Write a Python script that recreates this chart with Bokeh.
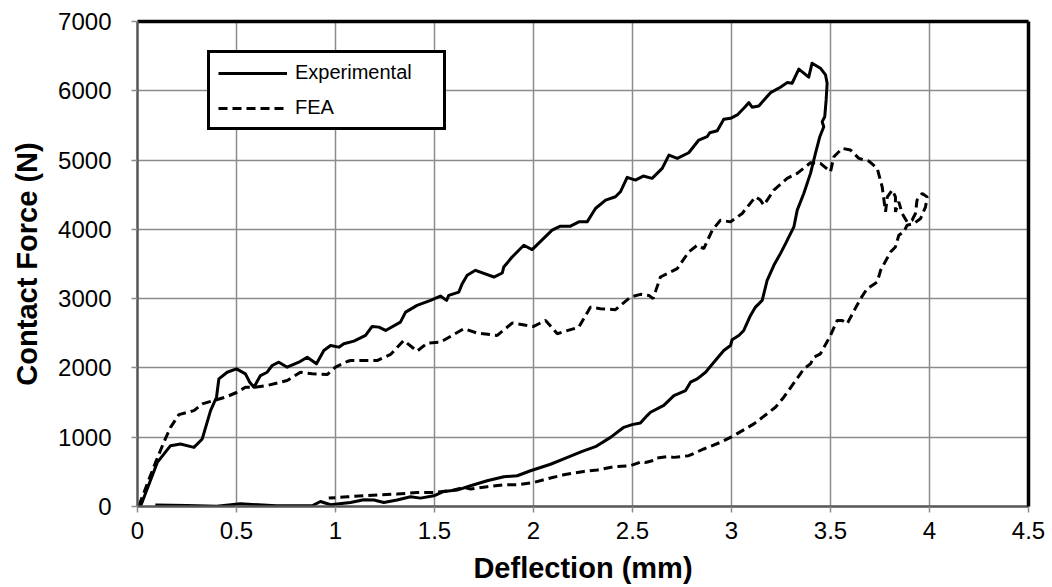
from bokeh.plotting import figure
from bokeh.models import FixedTicker, NumeralTickFormatter, Range1d, LinearAxis
from bokeh.embed import file_html
from bokeh.resources import INLINE

# ---------------- data ----------------
exp_x = [0.015, 0.10, 0.167, 0.217, 0.285, 0.327, 0.369, 0.399, 0.411, 0.453, 0.50, 0.545, 0.567, 0.588,
         0.621, 0.655, 0.68, 0.714, 0.756, 0.815, 0.857, 0.904, 0.941, 0.975, 1.017, 1.042, 1.093, 1.152,
         1.185, 1.219, 1.253, 1.328, 1.354, 1.412, 1.48, 1.53, 1.561, 1.572, 1.623, 1.64, 1.665, 1.707,
         1.80, 1.842, 1.85, 1.892, 1.951, 1.993, 2.094, 2.136, 2.187, 2.229, 2.271, 2.313, 2.364, 2.414,
         2.439, 2.473, 2.515, 2.554, 2.599, 2.65, 2.684, 2.726, 2.784, 2.835, 2.877, 2.89, 2.928, 2.961,
         2.995, 3.029, 3.062, 3.088, 3.104, 3.138, 3.197, 3.247, 3.281, 3.306, 3.34, 3.39, 3.407, 3.449,
         3.475, 3.483, 3.478, 3.471, 3.458, 3.466, 3.446, 3.424, 3.399, 3.365, 3.332, 3.315, 3.273, 3.247,
         3.214, 3.18, 3.155, 3.121, 3.096, 3.062, 3.037, 3.003, 2.995, 2.961, 2.911, 2.869, 2.827, 2.793,
         2.768, 2.709, 2.658, 2.591, 2.574, 2.54, 2.498, 2.456, 2.389, 2.313, 2.246, 2.153, 2.086, 1.985,
         1.918, 1.85, 1.766, 1.682, 1.614, 1.547, 1.497, 1.429, 1.379, 1.311, 1.244, 1.194, 1.143, 1.076,
         1.008, 0.975, 0.924, 0.882, 0.70, 0.52, 0.40, 0.25, 0.09]
exp_y = [0, 636, 878, 902, 853, 975, 1384, 1577, 1843, 1938, 1987, 1915, 1794, 1721,
         1890, 1938, 2035, 2083, 2011, 2083, 2155, 2059, 2252, 2324, 2300, 2348, 2387, 2469,
         2599, 2589, 2541, 2661, 2806, 2903, 2975, 3037, 2975, 3047, 3095, 3216, 3337, 3409,
         3312, 3370, 3457, 3601, 3771, 3708, 3988, 4046, 4046, 4108, 4108, 4301, 4422, 4470,
         4542, 4750, 4711, 4769, 4736, 4880, 5072, 5024, 5106, 5289, 5337, 5395, 5424, 5588,
         5603, 5651, 5748, 5829, 5762, 5781, 5973, 6051, 6118, 6109, 6312, 6196, 6398, 6326,
         6229, 6109, 5868, 5626, 5554, 5482, 5337, 5097, 4808, 4518, 4277, 4035, 3795, 3650,
         3481, 3264, 2975, 2878, 2758, 2541, 2469, 2407, 2324, 2252, 2083, 1938, 1843, 1794,
         1673, 1601, 1460, 1360, 1312, 1205, 1182, 1143, 998, 863, 796, 686, 610, 516,
         444, 430, 372, 299, 237, 217, 155, 121, 140, 93, 58, 93, 97, 58,
         35, 25, 72, 10, 10, 40, 5, 15, 20]

fea_x = [0.007, 0.049, 0.091, 0.133, 0.167, 0.209, 0.285, 0.327, 0.385, 0.444, 0.503, 0.545, 0.588,
         0.655, 0.756, 0.823, 0.882, 0.958, 1.0, 1.059, 1.076, 1.21, 1.278, 1.345, 1.412, 1.463, 1.53,
         1.648, 1.716, 1.817, 1.892, 2.001, 2.061, 2.12, 2.229, 2.288, 2.338, 2.414, 2.49, 2.54, 2.583,
         2.604, 2.641, 2.692, 2.726, 2.784, 2.827, 2.86, 2.903, 2.944, 2.995, 3.054, 3.121, 3.146, 3.163,
         3.214, 3.281, 3.332, 3.399, 3.449, 3.5, 3.517, 3.559, 3.601, 3.643, 3.694, 3.736, 3.761, 3.778,
         3.787, 3.812, 3.828, 3.828, 3.845, 3.862, 3.887, 3.912, 3.929, 3.937, 3.963, 3.988, 3.98, 3.955,
         3.921, 3.887, 3.87, 3.845, 3.828, 3.803, 3.753, 3.736, 3.685, 3.652, 3.584, 3.559, 3.534, 3.5,
         3.449, 3.416, 3.399, 3.365, 3.348, 3.264, 3.222, 3.113, 3.012, 2.944, 2.86, 2.784, 2.709, 2.675,
         2.625, 2.616, 2.566, 2.549, 2.49, 2.406, 2.322, 2.254, 2.153, 2.086, 2.001, 1.917, 1.85, 1.766,
         1.682, 1.648, 1.581, 1.497, 1.412, 1.311, 1.227, 1.143, 1.059, 0.966]
fea_y = [10, 324, 636, 926, 1143, 1326, 1384, 1481, 1529, 1577, 1649, 1721, 1721,
         1746, 1818, 1938, 1915, 1905, 2011, 2093, 2107, 2107, 2194, 2397, 2242, 2358, 2372,
         2566, 2502, 2469, 2647, 2599, 2686, 2494, 2589, 2878, 2855, 2841, 3023, 3062, 3047,
         3000, 3312, 3384, 3433, 3674, 3771, 3723, 3988, 4132, 4108, 4229, 4470, 4422, 4349,
         4566, 4736, 4808, 4961, 4952, 4831, 5048, 5169, 5145, 5024, 4985, 4880, 4614, 4252,
         4469, 4566, 4469, 4252, 4397, 4229, 4108, 4132, 4229, 4421, 4518, 4469, 4325, 4157,
         4084, 4060, 3963, 3915, 3746, 3674, 3409, 3240, 3144, 3000, 2638, 2686, 2686, 2469,
         2204, 2155, 2059, 1987, 1915, 1577, 1432, 1192, 1023, 926, 830, 733, 709, 719,
         700, 671, 636, 651, 589, 574, 526, 506, 458, 411, 347, 314, 314, 285,
         252, 275, 227, 203, 203, 179, 169, 155, 140, 121]

x_ticks = [0, 0.5, 1, 1.5, 2, 2.5, 3, 3.5, 4, 4.5]
y_ticks = [0, 1000, 2000, 3000, 4000, 5000, 6000, 7000]
x_title = "Deflection (mm)"
y_title = "Contact Force (N)"
series_names = ["Experimental", "FEA"]

FONT = "Liberation Sans"
GRID = "#8c8c8c"

p = figure(width=1052, height=587, output_backend="svg", toolbar_location=None,
           x_range=Range1d(0, 4.5), y_range=Range1d(0, 7000),
           min_border_left=137, min_border_right=24, min_border_top=21, min_border_bottom=81)

p.line(exp_x, exp_y, line_color="black", line_width=3, line_join="round",
       legend_label=series_names[0])
p.line(fea_x, fea_y, line_color="black", line_width=3, line_dash="9 5",
       legend_label=series_names[1])

p.xaxis.ticker = FixedTicker(ticks=x_ticks)
p.yaxis.ticker = FixedTicker(ticks=y_ticks)
p.xaxis.formatter = NumeralTickFormatter(format="0.[0]")
p.yaxis.formatter = NumeralTickFormatter(format="0")

for ax in (p.xaxis[0], p.yaxis[0]):
    ax.major_label_text_font = FONT
    ax.major_label_text_font_size = "24px"
    ax.major_label_text_color = "black"
    ax.axis_label_text_font = FONT
    ax.axis_label_text_font_style = "bold"
    ax.axis_label_text_color = "black"
    ax.axis_line_color = "#555555"
    ax.axis_line_width = 2.5
    ax.major_tick_line_color = GRID
    ax.major_tick_line_width = 1.5
    ax.major_tick_out = 6
    ax.major_tick_in = 0
    ax.minor_tick_line_color = None

p.xaxis.axis_label = x_title
p.yaxis.axis_label = y_title
p.xaxis.axis_label_text_font_size = "29px"
p.yaxis.axis_label_text_font_size = "29px"
p.xaxis.major_label_standoff = 9
p.yaxis.major_label_standoff = 20
p.xaxis.axis_label_standoff = 10
p.yaxis.axis_label_standoff = 12

# thick black frame on top and right, as plain axes with no ticks or labels
for side in ("above", "right"):
    fr = LinearAxis(ticker=FixedTicker(ticks=[]), axis_line_color="black", axis_line_width=3.5,
                    major_tick_line_color=None, minor_tick_line_color=None,
                    major_label_text_font_size="0px")
    p.add_layout(fr, side)

# inner grid lines only
p.xgrid.ticker = FixedTicker(ticks=x_ticks[1:-1])
p.ygrid.ticker = FixedTicker(ticks=y_ticks[1:-1])
p.xgrid.grid_line_color = GRID
p.ygrid.grid_line_color = GRID
p.xgrid.grid_line_width = 1.5
p.ygrid.grid_line_width = 1.5

p.outline_line_color = None

lg = p.legend[0]
lg.location = (70, 376)
lg.label_text_font = FONT
lg.label_text_font_size = "20px"
lg.label_text_color = "black"
lg.glyph_width = 69
lg.glyph_height = 20
lg.label_height = 20
lg.label_width = 140
lg.label_standoff = 8
lg.spacing = 12
lg.padding = 8
lg.margin = 0
lg.border_line_color = "black"
lg.border_line_width = 3
lg.border_line_alpha = 1
lg.background_fill_color = "white"
lg.background_fill_alpha = 1

p.background_fill_color = "white"
p.border_fill_color = "white"

open("out.html", "w").write(file_html(p, INLINE))
